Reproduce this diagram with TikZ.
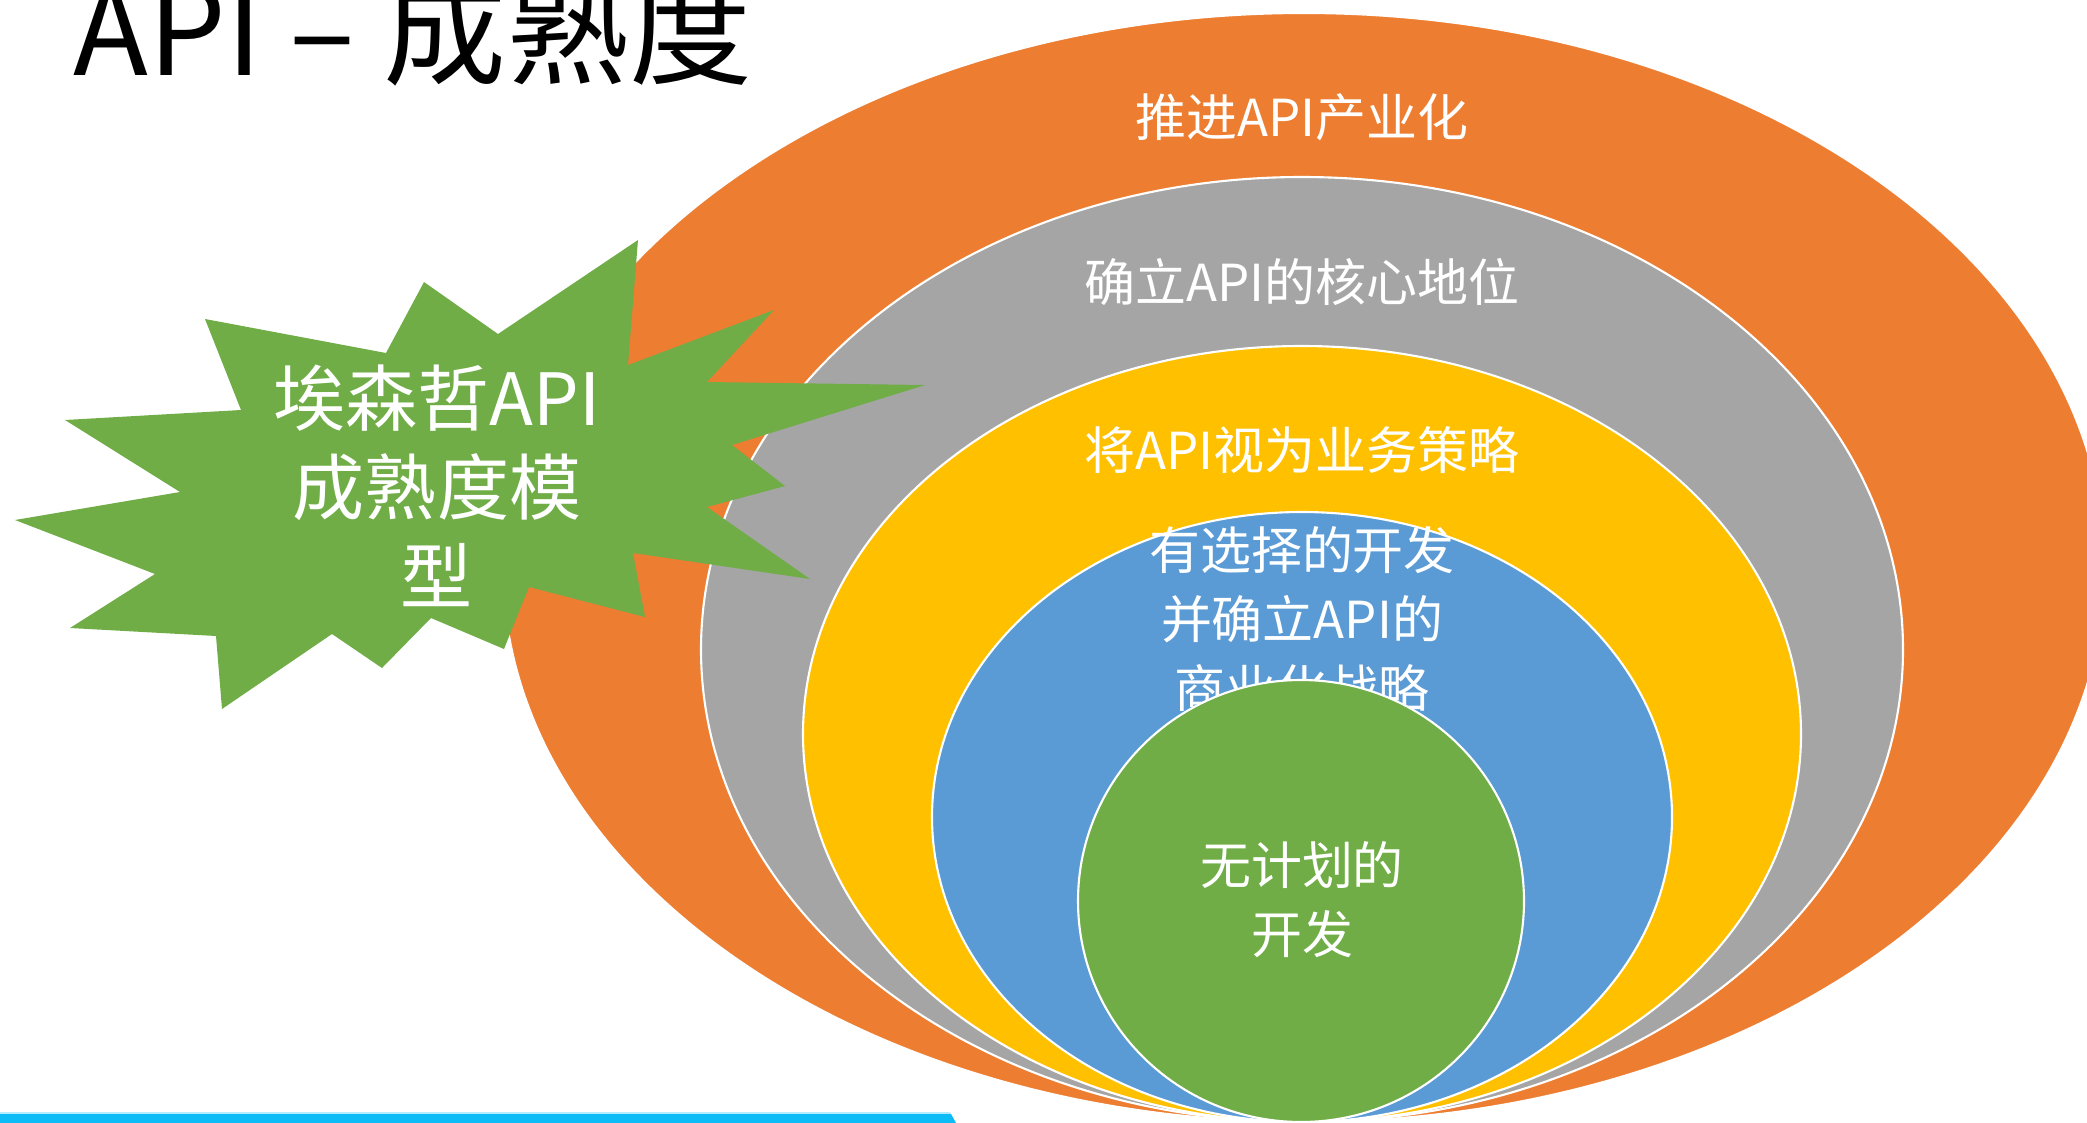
\documentclass[tikz,border=0pt]{standalone}
\usepackage{fontspec}
\setmainfont{Noto Sans CJK SC}
\usepackage{tikz}
\usetikzlibrary{shapes.geometric, positioning}
\definecolor{ringorange}{HTML}{ED7D31}
\definecolor{ringgray}{HTML}{A5A5A5}
\definecolor{ringyellow}{HTML}{FFC000}
\definecolor{ringblue}{HTML}{5B9BD5}
\definecolor{ringgreen}{HTML}{70AD47}
\definecolor{barblue}{HTML}{0BBCF6}
\definecolor{barglow}{HTML}{B5EBFC}

\begin{document}
\begin{tikzpicture}[ring/.style={draw=white, line width=0.6pt, ellipse, inner sep=0pt},
    lbl/.style={text=white, align=center, inner sep=0pt, font=\fontsize{14.5}{19.6}\selectfont}]
    \useasboundingbox (0,0) rectangle (20.87,-11.23);
    \clip (0,0) rectangle (20.87,-11.23);

    % nested rings
    \node (industry) [ring, fill=ringorange, minimum width=16.02cm, minimum height=11.09cm] at (13.04,-5.675) {};
    \node (core) [ring, fill=ringgray, minimum width=12.02cm, minimum height=9.45cm] at (13.02,-6.495) {};
    \node (strategy) [ring, fill=ringyellow, minimum width=9.98cm, minimum height=7.76cm] at (13.02,-7.34) {};
    \node (selective) [ring, fill=ringblue, minimum width=7.40cm, minimum height=6.10cm] at (13.02,-8.17) {};

    \node (industrytext) [lbl] at (13.02,-1.17) {推进API产业化};
    \node (coretext) [lbl] at (13.02,-2.82) {确立API的核心地位};
    \node (strategytext) [lbl] at (13.02,-4.50) {将API视为业务策略};
    \node (selectivetext) [lbl] at (13.02,-6.19) {有选择的开发\\并确立API的\\商业化战略};

    \node (unplanned) [ring, fill=ringgreen, minimum width=4.46cm, minimum height=4.42cm] at (13.01,-9.01) {};
    \node (unplannedtext) [lbl] at (13.02,-8.995) {无计划的\\开发};

    % starburst
    \fill[ringgreen] (6.38,-2.40) -- (4.98,-3.34) -- (4.24,-2.82) -- (3.86,-3.53) -- (2.05,-3.19)
        -- (2.41,-4.10) -- (0.65,-4.20) -- (1.80,-4.92) -- (0.15,-5.20) -- (1.55,-5.74)
        -- (0.70,-6.28) -- (2.16,-6.36) -- (2.22,-7.09) -- (3.32,-6.34) -- (3.82,-6.68)
        -- (4.31,-6.18) -- (5.04,-6.49) -- (5.29,-5.87) -- (6.45,-6.17) -- (6.33,-5.53)
        -- (8.10,-5.79) -- (7.07,-5.07) -- (7.85,-4.86) -- (7.32,-4.45) -- (9.25,-3.85)
        -- (7.07,-3.82) -- (7.74,-3.10) -- (6.28,-3.65) -- cycle;
    \node (model) [text=white, align=center, inner sep=0pt, font=\fontsize{20.5}{25.3}\selectfont] at (4.37,-4.86) {埃森哲API\\成熟度模\\型};

    % title and bottom bar
    \node (title) [anchor=base west, inner sep=0pt, font=\fontsize{35}{40}\selectfont] at (0.73,-0.75) {API – 成熟度};
    \fill[barglow] (0,-11.12) -- (9.50,-11.12) -- (9.51,-11.14) -- (0,-11.14) -- cycle;
    \fill[barblue] (0,-11.14) -- (9.51,-11.14) -- (9.56,-11.23) -- (0,-11.23) -- cycle;
\end{tikzpicture}
\end{document}
